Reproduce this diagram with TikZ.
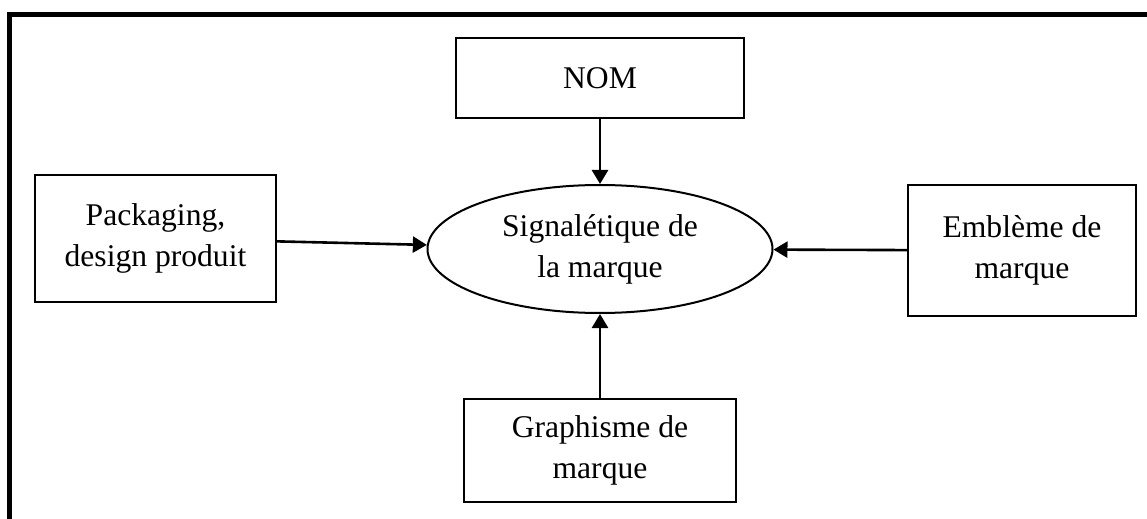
\documentclass[tikz,border=0pt]{standalone}
\usepackage{fontspec}
\setmainfont{Liberation Serif}
\usetikzlibrary{positioning,shapes.geometric,arrows.meta}

\begin{document}
\begin{tikzpicture}[x = 0.5pt, y = -0.5pt, on grid, auto,
    box/.style = {draw, line width = 1pt, align = center, inner sep = 0pt,
                  font = \fontsize{15.8}{20.5}\selectfont},
    >= {Triangle[length = 7pt, width = 8pt]}]
   \useasboundingbox (0,0) rectangle (1147,519);
   \draw[line width = 2.2pt] (1147,14.5) -- (9.5,14.5) -- (9.5,519);
   \node[box, ellipse, minimum width = 172.5pt, minimum height = 64pt] (sig) at (600,249) {Signalétique de\\la marque};
   \node[box, minimum width = 144pt, minimum height = 40pt] (nom) [above = 85.5pt of sig] {NOM};
   \node[box, minimum width = 120.5pt, minimum height = 63.5pt] (pack) [above left = 5.25pt and 222.25pt of sig] {Packaging,\\design produit};
   \node[box, minimum width = 114pt, minimum height = 65.5pt] (emb) [below right = 0.75pt and 211pt of sig] {Emblème de\\marque};
   \node[box, minimum width = 136pt, minimum height = 51.5pt] (graph) [below = 100.75pt of sig] {Graphisme de\\marque};
   \path[->, line width = 1.3pt]
    (nom)   edge (sig)
    (pack)  edge (sig)
    (emb)   edge (sig)
    (graph) edge (sig);
\end{tikzpicture}
\end{document}
